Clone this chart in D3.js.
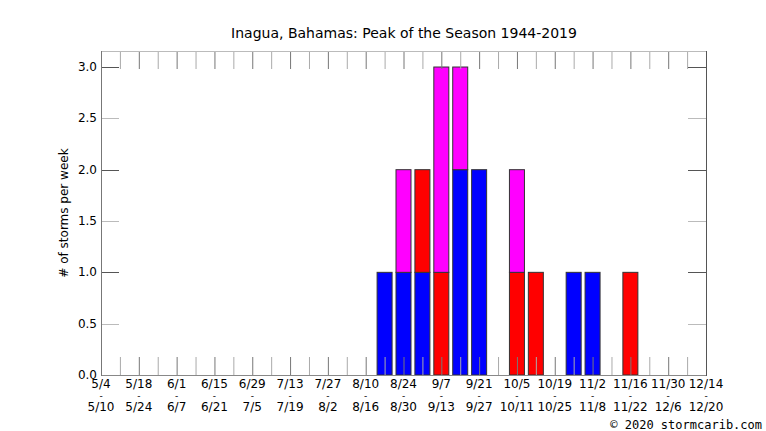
<!DOCTYPE html>
<html>
<head>
<meta charset="utf-8">
<script src="https://cdn.jsdelivr.net/npm/d3@7"></script>
<style>
  body { margin: 0; background: #fff; }
  text { font-family: "DejaVu Sans", sans-serif; fill: #000; }
  text.mono { font-family: "DejaVu Sans Mono", monospace; }
</style>
</head>
<body>
<div id="chart"></div>
<script>
// --- data ---
const weekLabelsTop = ["5/4","5/18","6/1","6/15","6/29","7/13","7/27","8/10","8/24","9/7","9/21","10/5","10/19","11/2","11/16","11/30","12/14"];
const weekLabelsBottom = ["5/10","5/24","6/7","6/21","7/5","7/19","8/2","8/16","8/30","9/13","9/27","10/11","10/25","11/8","11/22","12/6","12/20"];
// week index counted from 5/4 (0) to 12/14 (32)
const barWeeks =  [15, 16, 17, 18, 19, 20, 22, 23, 25, 26, 28];
const blueVals =  [ 1,  1,  1,  0,  2,  2,  0,  0,  1,  1,  0];
const redVals =   [ 0,  0,  1,  1,  0,  0,  1,  1,  0,  0,  1];
const magentaVals=[ 0,  1,  0,  2,  1,  0,  1,  0,  0,  0,  0];
const yTicks = [0, 0.5, 1, 1.5, 2, 2.5, 3];

const W = 766, H = 431;
const pL = 101, pR = 706, pT = 51, pB = 375;

const svg = d3.select("#chart").append("svg").attr("width", W).attr("height", H);

const x = d3.scaleLinear().domain([0, 32]).range([pL, pR]);
const y = d3.scaleLinear().domain([0, 3.156]).range([pB, pT]);

// stacked bars
const rows = barWeeks.map((w, i) => ({ week: w, blue: blueVals[i], red: redVals[i], magenta: magentaVals[i] }));
const stack = d3.stack().keys(["blue", "red", "magenta"])(rows);
const colors = { blue: "#0000ff", red: "#ff0000", magenta: "#ff00ff" };
const barW = 15;

svg.append("g").selectAll("g").data(stack).join("g")
  .attr("fill", d => colors[d.key])
  .selectAll("rect").data(d => d.filter(s => s[1] > s[0])).join("rect")
  .attr("x", d => x(d.data.week) - barW / 2)
  .attr("width", barW)
  .attr("y", d => y(d[1]))
  .attr("height", d => y(d[0]) - y(d[1]))
  .attr("stroke", "#333")
  .attr("stroke-width", 1);

// week ticks, top and bottom
const weeks = d3.range(1, 32);
svg.append("g").selectAll("line").data(weeks).join("line")
  .attr("x1", d => x(d) + 0.5).attr("x2", d => x(d) + 0.5)
  .attr("y1", pB).attr("y2", pB - 18)
  .attr("stroke", d => d % 2 === 0 ? "#777" : "#aaa");
svg.append("g").selectAll("line").data(weeks).join("line")
  .attr("x1", d => x(d) + 0.5).attr("x2", d => x(d) + 0.5)
  .attr("y1", pT).attr("y2", pT + 18)
  .attr("stroke", d => d % 2 === 0 ? "#777" : "#aaa");

// y ticks left and right
const yt = yTicks.filter(v => v > 0);
svg.append("g").selectAll("line").data(yt).join("line")
  .attr("x1", pL).attr("x2", pL + 18)
  .attr("y1", d => Math.round(y(d)) + 0.5).attr("y2", d => Math.round(y(d)) + 0.5)
  .attr("stroke", d => Number.isInteger(d) ? "#555" : "#bbb");
svg.append("g").selectAll("line").data(yt).join("line")
  .attr("x1", pR - 18).attr("x2", pR)
  .attr("y1", d => Math.round(y(d)) + 0.5).attr("y2", d => Math.round(y(d)) + 0.5)
  .attr("stroke", d => Number.isInteger(d) ? "#555" : "#bbb");

// frame
svg.append("line").attr("x1", pL).attr("x2", pR).attr("y1", pT + 0.5).attr("y2", pT + 0.5).attr("stroke", "#bbb");
svg.append("line").attr("x1", pL).attr("x2", pR).attr("y1", pB + 0.5).attr("y2", pB + 0.5).attr("stroke", "#888");
svg.append("line").attr("x1", pL + 0.5).attr("x2", pL + 0.5).attr("y1", pT).attr("y2", pB + 1).attr("stroke", "#777");
svg.append("line").attr("x1", pR + 0.5).attr("x2", pR + 0.5).attr("y1", pT).attr("y2", pB + 1).attr("stroke", "#555");

// y tick labels
svg.append("g").selectAll("text").data(yTicks).join("text")
  .attr("x", pL - 4).attr("y", d => y(d) + 4)
  .attr("text-anchor", "end").attr("font-size", 12)
  .text(d => d.toFixed(1));

// x labels (every 2 weeks): start date, dash, end date
const xl = svg.append("g").selectAll("g").data(weekLabelsTop).join("g")
  .attr("transform", (d, i) => `translate(${x(i * 2)},0)`);
xl.append("text").attr("y", 388).attr("text-anchor", "middle").attr("font-size", 12).text(d => d);
xl.append("text").attr("y", 399).attr("text-anchor", "middle").attr("font-size", 9).text("-");
xl.append("text").attr("y", 411).attr("text-anchor", "middle").attr("font-size", 12).text((d, i) => weekLabelsBottom[i]);

// title, axis label, credit
svg.append("text").attr("x", 404).attr("y", 38).attr("text-anchor", "middle").attr("font-size", 14)
  .text("Inagua, Bahamas: Peak of the Season 1944-2019");
svg.append("text").attr("transform", "translate(68,213) rotate(-90)").attr("text-anchor", "middle").attr("font-size", 12)
  .text("# of storms per week");
svg.append("text").attr("class", "mono").attr("x", 762).attr("y", 429).attr("text-anchor", "end").attr("font-size", 12)
  .text("© 2020 stormcarib.com");
</script>
</body>
</html>
